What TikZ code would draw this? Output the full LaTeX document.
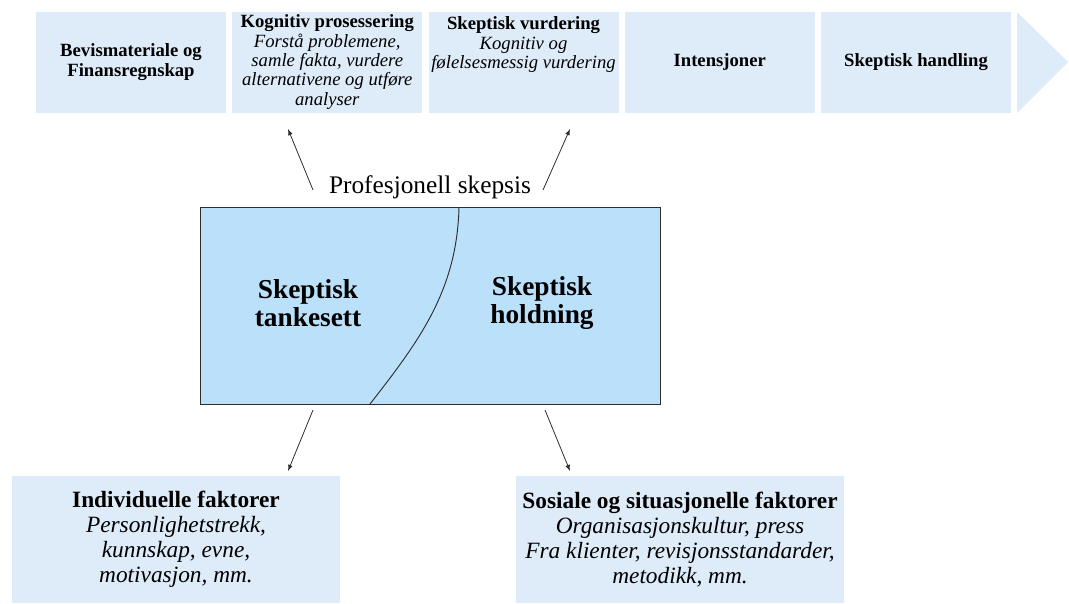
\documentclass[tikz,border=0pt]{standalone}
\usepackage{fontspec}
\setmainfont{Liberation Serif}[
    BoldFont={Liberation Serif Bold},
    ItalicFont={Liberation Serif Italic},
    BoldItalicFont={Liberation Serif Bold Italic}]
\usepackage{xcolor}
\definecolor{lyseBla}{RGB}{222, 235, 248}
\definecolor{himmelBla}{RGB}{187, 224, 250}
\definecolor{morkGra}{RGB}{45, 45, 45}
\usetikzlibrary{arrows,shapes,calc,positioning}
\tikzstyle{edge}  =[->, >=latex, line width=0.6pt, morkGra]
\tikzstyle{paso}  =[rectangle, fill=lyseBla, minimum width=142.5pt,
                    minimum height=75.75pt, inner sep=1pt, align=center,
                    font=\fontsize{14}{14.5}\selectfont]
\tikzstyle{faktor}=[rectangle, fill=lyseBla, minimum width=246pt,
                    minimum height=95.25pt, inner sep=1pt, align=center,
                    font=\fontsize{17.5}{18.75}\selectfont]
\tikzstyle{sinn}  =[align=center, font=\fontsize{20.5}{20.5}\selectfont\bfseries]

\begin{document}
\begin{tikzpicture}[x=0.75pt,y=-0.75pt]
    \useasboundingbox (0,0) rectangle (1069,603);

    \draw (131,62) node (1) [paso] {\textbf{Bevismateriale og}\\\textbf{Finansregnskap}};
    \draw (327.25,62) node (2) [paso] {\textbf{Kognitiv prosessering}\\\textit{Forstå problemene,}\\
        \textit{samle fakta, vurdere}\\\textit{alternativene og utføre}\\\textit{analyser}};
    \draw (523.5,62) node (3) [paso] {\textbf{Skeptisk vurdering}\\\textit{Kognitiv og}\\
        \textit{følelsesmessig vurdering}\\\mbox{}\\\mbox{}};
    \draw (719.75,62) node (4) [paso] {\textbf{Intensjoner}};
    \draw (916,62) node (5) [paso] {\textbf{Skeptisk handling}};
    \fill [lyseBla] (1017,12) -- (1068,62) -- (1017,113) -- cycle;

    \draw (430,187) node (9) [font=\fontsize{19}{19}\selectfont] {Profesjonell skepsis};

    \draw (430,305.5) node (10) [rectangle, draw=morkGra, fill=himmelBla, line width=0.6pt,
        minimum width=345pt, minimum height=147.75pt] {};
    \draw [morkGra, line width=0.7pt] (459,207) .. controls (457,290) and (420,340) .. (370,404);
    \draw (308,303) node (13) [sinn] {Skeptisk\\tankesett};
    \draw (542,303) node (14) [sinn] {Skeptisk\\holdning};

    \draw (176,539.5) node (11) [faktor] {\textbf{Individuelle faktorer}\\\textit{Personlighetstrekk,}\\
        \textit{kunnskap, evne,}\\\textit{motivasjon, mm.}};
    \draw (680,539.5) node (12) [faktor] {\textbf{Sosiale og situasjonelle faktorer}\\
        \textit{Organisasjonskultur, press}\\\textit{Fra klienter, revisjonsstandarder,}\\
        \textit{metodikk, mm.}};

    \coordinate (21) at (313,190);
    \coordinate (22) at (288,129);
    \coordinate (23) at (543,190);
    \coordinate (24) at (570,129);
    \coordinate (25) at (313,410);
    \coordinate (26) at (288,471);
    \coordinate (27) at (545,410);
    \coordinate (28) at (570,471);

    \foreach \i/\j in{21/22,23/24,25/26,27/28}
        \draw [edge] (\i) to (\j);

\end{tikzpicture}
\end{document}
